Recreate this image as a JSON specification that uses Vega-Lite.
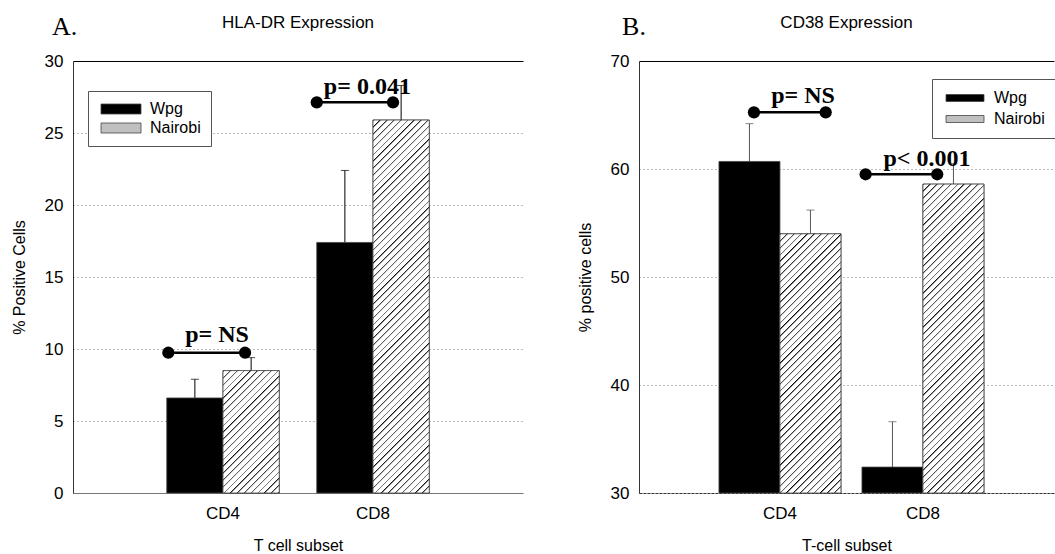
{
  "$schema": "https://vega.github.io/schema/vega-lite/v6.json",
  "background": "white",
  "padding": {"left": 11, "top": 14, "right": 0, "bottom": 0},
  "config": {
    "font": "Liberation Sans",
    "view": {"stroke": "transparent", "strokeWidth": 0},
    "style": {"cell": {"stroke": "transparent", "strokeWidth": 0}},
    "axis": {"labelFont": "Liberation Sans", "titleFont": "Liberation Sans", "labelFontSize": 17, "titleFontSize": 16, "titleFontWeight": "normal", "labelColor": "black", "titleColor": "black", "ticks": false, "tickSize": 0},
    "title": {"font": "Liberation Sans", "fontSize": 17, "fontWeight": "normal", "color": "black"},
    "legend": {"labelFont": "Liberation Sans", "labelFontSize": 16, "labelColor": "black"}
  },
  "datasets": {
    "bars": [
      {"panel": "A", "cat": "CD4", "group": "Wpg", "value": 6.6, "upper": 7.9},
      {"panel": "A", "cat": "CD4", "group": "Nairobi", "value": 8.5, "upper": 9.4},
      {"panel": "A", "cat": "CD8", "group": "Wpg", "value": 17.4, "upper": 22.4},
      {"panel": "A", "cat": "CD8", "group": "Nairobi", "value": 25.9, "upper": 28.3},
      {"panel": "B", "cat": "CD4", "group": "Wpg", "value": 60.7, "upper": 64.2},
      {"panel": "B", "cat": "CD4", "group": "Nairobi", "value": 54.0, "upper": 56.2},
      {"panel": "B", "cat": "CD8", "group": "Wpg", "value": 32.4, "upper": 36.6},
      {"panel": "B", "cat": "CD8", "group": "Nairobi", "value": 58.6, "upper": 60.5}
    ],
    "notes": [
      {"panel": "A", "cat": "CD4", "label": "p= NS", "value": 9.74, "left": 0.014, "right": 0.696, "tx": 0.447, "ty": 10.5},
      {"panel": "A", "cat": "CD8", "label": "p= 0.041", "value": 27.13, "left": 0.0, "right": 0.678, "tx": 0.45, "ty": 27.69},
      {"panel": "B", "cat": "CD4", "label": "p= NS", "value": 65.25, "left": 0.287, "right": 0.875, "tx": 0.689, "ty": 66.08},
      {"panel": "B", "cat": "CD8", "label": "p< 0.001", "value": 59.51, "left": 0.03, "right": 0.617, "tx": 0.533, "ty": 60.28}
    ]
  },
  "hconcat": [
    {
      "title": {"text": "A.", "font": "Liberation Serif", "fontSize": 26, "fontWeight": "normal", "anchor": "start", "dx": 41, "offset": -26},
      "resolve": {"scale": {"fill": "independent"}, "legend": {"fill": "independent"}},
      "vconcat": [
        {
          "width": 450,
          "height": 432,
          "view": {"stroke": "transparent", "strokeWidth": 0},
          "title": {"text": "HLA-DR Expression", "offset": 20},
          "resolve": {"scale": {"xOffset": "independent"}},
          "encoding": {
            "x": {"field": "cat", "type": "nominal", "title": "T cell subset", "scale": {"paddingInner": 0.25, "paddingOuter": 0.625}, "axis": {"labelAngle": 0, "labelPadding": 12, "titlePadding": 16, "domainColor": "#777777", "grid": false}}
          },
          "layer": [
            {
              "data": {"name": "bars"},
              "transform": [{"filter": "datum.panel === 'A'"}],
              "mark": {"type": "rule", "color": "black", "strokeWidth": 1},
              "encoding": {
                "xOffset": {"field": "group", "type": "nominal", "scale": {"domain": ["Wpg", "Nairobi"], "paddingInner": 0, "paddingOuter": 0}},
                "y": {"field": "value", "type": "quantitative", "title": "% Positive Cells", "scale": {"domain": [0, 30], "nice": false}},
                "y2": {"field": "upper"}
              }
            },
            {
              "data": {"name": "bars"},
              "transform": [{"filter": "datum.panel === 'A'"}],
              "mark": {"type": "tick", "color": "black", "thickness": 1, "size": 8, "orient": "horizontal"},
              "encoding": {
                "xOffset": {"field": "group", "type": "nominal", "scale": {"domain": ["Wpg", "Nairobi"], "paddingInner": 0, "paddingOuter": 0}},
                "y": {"field": "upper", "type": "quantitative", "title": "% Positive Cells"}
              }
            },
            {
              "data": {"name": "bars"},
              "transform": [{"filter": "datum.panel === 'A'"}],
              "mark": {"type": "bar", "stroke": "#444444", "strokeWidth": 0.8},
              "encoding": {
                "xOffset": {"field": "group", "type": "nominal", "scale": {"domain": ["Wpg", "Nairobi"], "paddingInner": 0, "paddingOuter": 0}},
                "y": {"field": "value", "type": "quantitative", "title": "% Positive Cells", "scale": {"domain": [0, 30], "nice": false},
                  "axis": {"values": [0, 5, 10, 15, 20, 25, 30], "grid": true,
                    "gridDash": {"condition": {"test": "datum.value === 30", "value": []}, "value": [1, 3]},
                    "gridColor": {"condition": {"test": "datum.value === 30", "value": "#000000"}, "value": "#777777"},
                    "domainColor": "#333333", "labelPadding": 10, "titlePadding": 17}},
                "fill": {"field": "group", "type": "nominal", "scale": {"domain": ["Wpg", "Nairobi"], "range": ["#000000", "#c0c0c0"]},
                  "legend": {"title": null, "orient": "none", "legendX": 15, "legendY": 30, "padding": 10, "rowPadding": 3, "strokeColor": "#555555", "fillColor": "white", "symbolType": "M-1,-1L7,-1L7,1L-1,1Z", "symbolSize": 100, "labelOffset": 36, "symbolStrokeWidth": 0.8}}
              }
            },
            {
              "data": {"name": "bars"},
              "transform": [{"filter": "datum.panel === 'A' && datum.cat === 'CD4' && datum.group === 'Nairobi'"}],
              "mark": {"type": "bar", "stroke": "#444444", "strokeWidth": 0.8, "fill": {"gradient": "linear", "x1": 0, "y1": 0, "x2": 2.108, "y2": 4.587, "stops": [{"offset":0,"color":"#000"},{"offset":0.003,"color":"#fff"},{"offset":0.01,"color":"#fff"},{"offset":0.01,"color":"#000"},{"offset":0.013,"color":"#fff"},{"offset":0.02,"color":"#fff"},{"offset":0.02,"color":"#000"},{"offset":0.023,"color":"#fff"},{"offset":0.03,"color":"#fff"},{"offset":0.03,"color":"#000"},{"offset":0.033,"color":"#fff"},{"offset":0.04,"color":"#fff"},{"offset":0.04,"color":"#000"},{"offset":0.043,"color":"#fff"},{"offset":0.05,"color":"#fff"},{"offset":0.05,"color":"#000"},{"offset":0.053,"color":"#fff"},{"offset":0.06,"color":"#fff"},{"offset":0.06,"color":"#000"},{"offset":0.063,"color":"#fff"},{"offset":0.07,"color":"#fff"},{"offset":0.07,"color":"#000"},{"offset":0.073,"color":"#fff"},{"offset":0.08,"color":"#fff"},{"offset":0.08,"color":"#000"},{"offset":0.083,"color":"#fff"},{"offset":0.09,"color":"#fff"},{"offset":0.09,"color":"#000"},{"offset":0.093,"color":"#fff"},{"offset":0.1,"color":"#fff"},{"offset":0.1,"color":"#000"},{"offset":0.103,"color":"#fff"},{"offset":0.11,"color":"#fff"},{"offset":0.11,"color":"#000"},{"offset":0.113,"color":"#fff"},{"offset":0.12,"color":"#fff"},{"offset":0.12,"color":"#000"},{"offset":0.123,"color":"#fff"},{"offset":0.13,"color":"#fff"},{"offset":0.13,"color":"#000"},{"offset":0.133,"color":"#fff"},{"offset":0.14,"color":"#fff"},{"offset":0.14,"color":"#000"},{"offset":0.143,"color":"#fff"},{"offset":0.15,"color":"#fff"},{"offset":0.15,"color":"#000"},{"offset":0.153,"color":"#fff"},{"offset":0.16,"color":"#fff"},{"offset":0.16,"color":"#000"},{"offset":0.163,"color":"#fff"},{"offset":0.17,"color":"#fff"},{"offset":0.17,"color":"#000"},{"offset":0.173,"color":"#fff"},{"offset":0.18,"color":"#fff"},{"offset":0.18,"color":"#000"},{"offset":0.183,"color":"#fff"},{"offset":0.19,"color":"#fff"},{"offset":0.19,"color":"#000"},{"offset":0.193,"color":"#fff"},{"offset":0.2,"color":"#fff"},{"offset":0.2,"color":"#000"},{"offset":0.203,"color":"#fff"},{"offset":0.21,"color":"#fff"},{"offset":0.21,"color":"#000"},{"offset":0.213,"color":"#fff"},{"offset":0.22,"color":"#fff"},{"offset":0.22,"color":"#000"},{"offset":0.223,"color":"#fff"},{"offset":0.23,"color":"#fff"},{"offset":0.23,"color":"#000"},{"offset":0.233,"color":"#fff"},{"offset":0.24,"color":"#fff"},{"offset":0.24,"color":"#000"},{"offset":0.243,"color":"#fff"},{"offset":0.25,"color":"#fff"},{"offset":0.25,"color":"#000"},{"offset":0.253,"color":"#fff"},{"offset":0.26,"color":"#fff"},{"offset":0.26,"color":"#000"},{"offset":0.263,"color":"#fff"},{"offset":0.27,"color":"#fff"}]}},
              "encoding": {
                "xOffset": {"field": "group", "type": "nominal", "scale": {"domain": ["Wpg", "Nairobi"], "paddingInner": 0, "paddingOuter": 0}},
                "y": {"field": "value", "type": "quantitative", "title": "% Positive Cells"}
              }
            },
            {
              "data": {"name": "bars"},
              "transform": [{"filter": "datum.panel === 'A' && datum.cat === 'CD8' && datum.group === 'Nairobi'"}],
              "mark": {"type": "bar", "stroke": "#444444", "strokeWidth": 0.8, "fill": {"gradient": "linear", "x1": 0, "y1": 0, "x2": 0.26887, "y2": 1.7827, "stops": [{"offset":0,"color":"#000"},{"offset":0.003,"color":"#fff"},{"offset":0.01,"color":"#fff"},{"offset":0.01,"color":"#000"},{"offset":0.013,"color":"#fff"},{"offset":0.02,"color":"#fff"},{"offset":0.02,"color":"#000"},{"offset":0.023,"color":"#fff"},{"offset":0.03,"color":"#fff"},{"offset":0.03,"color":"#000"},{"offset":0.033,"color":"#fff"},{"offset":0.04,"color":"#fff"},{"offset":0.04,"color":"#000"},{"offset":0.043,"color":"#fff"},{"offset":0.05,"color":"#fff"},{"offset":0.05,"color":"#000"},{"offset":0.053,"color":"#fff"},{"offset":0.06,"color":"#fff"},{"offset":0.06,"color":"#000"},{"offset":0.063,"color":"#fff"},{"offset":0.07,"color":"#fff"},{"offset":0.07,"color":"#000"},{"offset":0.073,"color":"#fff"},{"offset":0.08,"color":"#fff"},{"offset":0.08,"color":"#000"},{"offset":0.083,"color":"#fff"},{"offset":0.09,"color":"#fff"},{"offset":0.09,"color":"#000"},{"offset":0.093,"color":"#fff"},{"offset":0.1,"color":"#fff"},{"offset":0.1,"color":"#000"},{"offset":0.103,"color":"#fff"},{"offset":0.11,"color":"#fff"},{"offset":0.11,"color":"#000"},{"offset":0.113,"color":"#fff"},{"offset":0.12,"color":"#fff"},{"offset":0.12,"color":"#000"},{"offset":0.123,"color":"#fff"},{"offset":0.13,"color":"#fff"},{"offset":0.13,"color":"#000"},{"offset":0.133,"color":"#fff"},{"offset":0.14,"color":"#fff"},{"offset":0.14,"color":"#000"},{"offset":0.143,"color":"#fff"},{"offset":0.15,"color":"#fff"},{"offset":0.15,"color":"#000"},{"offset":0.153,"color":"#fff"},{"offset":0.16,"color":"#fff"},{"offset":0.16,"color":"#000"},{"offset":0.163,"color":"#fff"},{"offset":0.17,"color":"#fff"},{"offset":0.17,"color":"#000"},{"offset":0.173,"color":"#fff"},{"offset":0.18,"color":"#fff"},{"offset":0.18,"color":"#000"},{"offset":0.183,"color":"#fff"},{"offset":0.19,"color":"#fff"},{"offset":0.19,"color":"#000"},{"offset":0.193,"color":"#fff"},{"offset":0.2,"color":"#fff"},{"offset":0.2,"color":"#000"},{"offset":0.203,"color":"#fff"},{"offset":0.21,"color":"#fff"},{"offset":0.21,"color":"#000"},{"offset":0.213,"color":"#fff"},{"offset":0.22,"color":"#fff"},{"offset":0.22,"color":"#000"},{"offset":0.223,"color":"#fff"},{"offset":0.23,"color":"#fff"},{"offset":0.23,"color":"#000"},{"offset":0.233,"color":"#fff"},{"offset":0.24,"color":"#fff"},{"offset":0.24,"color":"#000"},{"offset":0.243,"color":"#fff"},{"offset":0.25,"color":"#fff"},{"offset":0.25,"color":"#000"},{"offset":0.253,"color":"#fff"},{"offset":0.26,"color":"#fff"},{"offset":0.26,"color":"#000"},{"offset":0.263,"color":"#fff"},{"offset":0.27,"color":"#fff"},{"offset":0.27,"color":"#000"},{"offset":0.273,"color":"#fff"},{"offset":0.28,"color":"#fff"},{"offset":0.28,"color":"#000"},{"offset":0.283,"color":"#fff"},{"offset":0.29,"color":"#fff"},{"offset":0.29,"color":"#000"},{"offset":0.293,"color":"#fff"},{"offset":0.3,"color":"#fff"},{"offset":0.3,"color":"#000"},{"offset":0.303,"color":"#fff"},{"offset":0.31,"color":"#fff"},{"offset":0.31,"color":"#000"},{"offset":0.313,"color":"#fff"},{"offset":0.32,"color":"#fff"},{"offset":0.32,"color":"#000"},{"offset":0.323,"color":"#fff"},{"offset":0.33,"color":"#fff"},{"offset":0.33,"color":"#000"},{"offset":0.333,"color":"#fff"},{"offset":0.34,"color":"#fff"},{"offset":0.34,"color":"#000"},{"offset":0.343,"color":"#fff"},{"offset":0.35,"color":"#fff"},{"offset":0.35,"color":"#000"},{"offset":0.353,"color":"#fff"},{"offset":0.36,"color":"#fff"},{"offset":0.36,"color":"#000"},{"offset":0.363,"color":"#fff"},{"offset":0.37,"color":"#fff"},{"offset":0.37,"color":"#000"},{"offset":0.373,"color":"#fff"},{"offset":0.38,"color":"#fff"},{"offset":0.38,"color":"#000"},{"offset":0.383,"color":"#fff"},{"offset":0.39,"color":"#fff"},{"offset":0.39,"color":"#000"},{"offset":0.393,"color":"#fff"},{"offset":0.4,"color":"#fff"},{"offset":0.4,"color":"#000"},{"offset":0.403,"color":"#fff"},{"offset":0.41,"color":"#fff"},{"offset":0.41,"color":"#000"},{"offset":0.413,"color":"#fff"},{"offset":0.42,"color":"#fff"},{"offset":0.42,"color":"#000"},{"offset":0.423,"color":"#fff"},{"offset":0.43,"color":"#fff"},{"offset":0.43,"color":"#000"},{"offset":0.433,"color":"#fff"},{"offset":0.44,"color":"#fff"},{"offset":0.44,"color":"#000"},{"offset":0.443,"color":"#fff"},{"offset":0.45,"color":"#fff"},{"offset":0.45,"color":"#000"},{"offset":0.453,"color":"#fff"},{"offset":0.46,"color":"#fff"},{"offset":0.46,"color":"#000"},{"offset":0.463,"color":"#fff"},{"offset":0.47,"color":"#fff"},{"offset":0.47,"color":"#000"},{"offset":0.473,"color":"#fff"},{"offset":0.48,"color":"#fff"},{"offset":0.48,"color":"#000"},{"offset":0.483,"color":"#fff"},{"offset":0.49,"color":"#fff"},{"offset":0.49,"color":"#000"},{"offset":0.493,"color":"#fff"},{"offset":0.5,"color":"#fff"},{"offset":0.5,"color":"#000"},{"offset":0.503,"color":"#fff"},{"offset":0.51,"color":"#fff"},{"offset":0.51,"color":"#000"},{"offset":0.513,"color":"#fff"},{"offset":0.52,"color":"#fff"},{"offset":0.52,"color":"#000"},{"offset":0.523,"color":"#fff"},{"offset":0.53,"color":"#fff"},{"offset":0.53,"color":"#000"},{"offset":0.533,"color":"#fff"},{"offset":0.54,"color":"#fff"},{"offset":0.54,"color":"#000"},{"offset":0.543,"color":"#fff"},{"offset":0.55,"color":"#fff"},{"offset":0.55,"color":"#000"},{"offset":0.553,"color":"#fff"},{"offset":0.56,"color":"#fff"},{"offset":0.56,"color":"#000"},{"offset":0.563,"color":"#fff"},{"offset":0.57,"color":"#fff"},{"offset":0.57,"color":"#000"},{"offset":0.573,"color":"#fff"},{"offset":0.58,"color":"#fff"},{"offset":0.58,"color":"#000"},{"offset":0.583,"color":"#fff"},{"offset":0.59,"color":"#fff"},{"offset":0.59,"color":"#000"},{"offset":0.593,"color":"#fff"},{"offset":0.6,"color":"#fff"},{"offset":0.6,"color":"#000"},{"offset":0.603,"color":"#fff"},{"offset":0.61,"color":"#fff"},{"offset":0.61,"color":"#000"},{"offset":0.613,"color":"#fff"},{"offset":0.62,"color":"#fff"},{"offset":0.62,"color":"#000"},{"offset":0.623,"color":"#fff"},{"offset":0.63,"color":"#fff"},{"offset":0.63,"color":"#000"},{"offset":0.633,"color":"#fff"},{"offset":0.64,"color":"#fff"}]}},
              "encoding": {
                "xOffset": {"field": "group", "type": "nominal", "scale": {"domain": ["Wpg", "Nairobi"], "paddingInner": 0, "paddingOuter": 0}},
                "y": {"field": "value", "type": "quantitative", "title": "% Positive Cells"}
              }
            },
            {
              "data": {"name": "notes"},
              "transform": [{"filter": "datum.panel === 'A'"}, {"fold": ["left", "right"], "as": ["end", "pos"]}],
              "mark": {"type": "line", "color": "black", "strokeWidth": 2.5},
              "encoding": {
                "xOffset": {"field": "pos", "type": "quantitative", "scale": {"domain": [0, 1], "nice": false, "zero": false}},
                "y": {"field": "value", "type": "quantitative", "title": "% Positive Cells"},
                "detail": {"field": "label"}
              }
            },
            {
              "data": {"name": "notes"},
              "transform": [{"filter": "datum.panel === 'A'"}, {"fold": ["left", "right"], "as": ["end", "pos"]}],
              "mark": {"type": "point", "filled": true, "color": "black", "opacity": 1, "size": 150},
              "encoding": {
                "xOffset": {"field": "pos", "type": "quantitative", "scale": {"domain": [0, 1], "nice": false, "zero": false}},
                "y": {"field": "value", "type": "quantitative", "title": "% Positive Cells"}
              }
            },
            {
              "data": {"name": "notes"},
              "transform": [{"filter": "datum.panel === 'A'"}],
              "mark": {"type": "text", "font": "Liberation Serif", "fontWeight": "bold", "fontSize": 24, "baseline": "alphabetic", "align": "center", "color": "black"},
              "encoding": {
                "xOffset": {"field": "tx", "type": "quantitative", "scale": {"domain": [0, 1], "nice": false, "zero": false}},
                "y": {"field": "ty", "type": "quantitative", "title": "% Positive Cells"},
                "text": {"field": "label"}
              }
            }
          ]
        }
      ]
    },
    {
      "title": {"text": "B.", "font": "Liberation Serif", "fontSize": 26, "fontWeight": "normal", "anchor": "start", "dx": 45, "offset": -26},
      "resolve": {"scale": {"fill": "independent"}, "legend": {"fill": "independent"}},
      "vconcat": [
        {
          "width": 415,
          "height": 432,
          "view": {"stroke": "transparent", "strokeWidth": 0},
          "title": {"text": "CD38 Expression", "offset": 20},
          "resolve": {"scale": {"xOffset": "independent"}},
          "encoding": {
            "x": {"field": "cat", "type": "nominal", "title": "T-cell subset", "scale": {"paddingInner": 0.147, "paddingOuter": 0.5245, "align": 0.533}, "axis": {"labelAngle": 0, "labelPadding": 12, "titlePadding": 16, "domainColor": "#333333", "domainDash": [3, 1], "grid": false}}
          },
          "layer": [
            {
              "data": {"name": "bars"},
              "transform": [{"filter": "datum.panel === 'B'"}],
              "mark": {"type": "rule", "color": "#555555", "strokeWidth": 1},
              "encoding": {
                "xOffset": {"field": "group", "type": "nominal", "scale": {"domain": ["Wpg", "Nairobi"], "paddingInner": 0, "paddingOuter": 0}},
                "y": {"field": "value", "type": "quantitative", "title": "% positive cells", "scale": {"domain": [30, 70], "nice": false, "zero": false}},
                "y2": {"field": "upper"}
              }
            },
            {
              "data": {"name": "bars"},
              "transform": [{"filter": "datum.panel === 'B'"}],
              "mark": {"type": "tick", "color": "#555555", "thickness": 1, "size": 8, "orient": "horizontal"},
              "encoding": {
                "xOffset": {"field": "group", "type": "nominal", "scale": {"domain": ["Wpg", "Nairobi"], "paddingInner": 0, "paddingOuter": 0}},
                "y": {"field": "upper", "type": "quantitative", "title": "% positive cells"}
              }
            },
            {
              "data": {"name": "bars"},
              "transform": [{"filter": "datum.panel === 'B'"}],
              "mark": {"type": "bar", "stroke": "#444444", "strokeWidth": 0.8},
              "encoding": {
                "xOffset": {"field": "group", "type": "nominal", "scale": {"domain": ["Wpg", "Nairobi"], "paddingInner": 0, "paddingOuter": 0}},
                "y": {"field": "value", "type": "quantitative", "title": "% positive cells", "scale": {"domain": [30, 70], "nice": false, "zero": false},
                  "axis": {"values": [30, 40, 50, 60, 70], "grid": true,
                    "gridDash": {"condition": {"test": "datum.value === 70", "value": []}, "value": [1, 3]},
                    "gridColor": {"condition": {"test": "datum.value === 70", "value": "#000000"}, "value": "#777777"},
                    "domainColor": "#333333", "labelPadding": 10, "titlePadding": 17}},
                "y2": {"datum": 30},
                "fill": {"field": "group", "type": "nominal", "scale": {"domain": ["Wpg", "Nairobi"], "range": ["#000000", "#c0c0c0"]},
                  "legend": {"title": null, "orient": "none", "legendX": 293, "legendY": 18, "padding": 11, "rowPadding": 5, "strokeColor": "#555555", "fillColor": "white", "symbolType": "M-1,-0.7L6.6,-0.7L6.6,0.7L-1,0.7Z", "symbolSize": 100, "labelOffset": 35, "symbolStrokeWidth": 0.8}}
              }
            },
            {
              "data": {"name": "bars"},
              "transform": [{"filter": "datum.panel === 'B' && datum.cat === 'CD4' && datum.group === 'Nairobi'"}],
              "mark": {"type": "bar", "stroke": "#444444", "strokeWidth": 0.8, "fill": {"gradient": "linear", "x1": 0, "y1": 0, "x2": 0.585, "y2": 2.4858, "stops": [{"offset":0,"color":"#000"},{"offset":0.003,"color":"#fff"},{"offset":0.01,"color":"#fff"},{"offset":0.01,"color":"#000"},{"offset":0.013,"color":"#fff"},{"offset":0.02,"color":"#fff"},{"offset":0.02,"color":"#000"},{"offset":0.023,"color":"#fff"},{"offset":0.03,"color":"#fff"},{"offset":0.03,"color":"#000"},{"offset":0.033,"color":"#fff"},{"offset":0.04,"color":"#fff"},{"offset":0.04,"color":"#000"},{"offset":0.043,"color":"#fff"},{"offset":0.05,"color":"#fff"},{"offset":0.05,"color":"#000"},{"offset":0.053,"color":"#fff"},{"offset":0.06,"color":"#fff"},{"offset":0.06,"color":"#000"},{"offset":0.063,"color":"#fff"},{"offset":0.07,"color":"#fff"},{"offset":0.07,"color":"#000"},{"offset":0.073,"color":"#fff"},{"offset":0.08,"color":"#fff"},{"offset":0.08,"color":"#000"},{"offset":0.083,"color":"#fff"},{"offset":0.09,"color":"#fff"},{"offset":0.09,"color":"#000"},{"offset":0.093,"color":"#fff"},{"offset":0.1,"color":"#fff"},{"offset":0.1,"color":"#000"},{"offset":0.103,"color":"#fff"},{"offset":0.11,"color":"#fff"},{"offset":0.11,"color":"#000"},{"offset":0.113,"color":"#fff"},{"offset":0.12,"color":"#fff"},{"offset":0.12,"color":"#000"},{"offset":0.123,"color":"#fff"},{"offset":0.13,"color":"#fff"},{"offset":0.13,"color":"#000"},{"offset":0.133,"color":"#fff"},{"offset":0.14,"color":"#fff"},{"offset":0.14,"color":"#000"},{"offset":0.143,"color":"#fff"},{"offset":0.15,"color":"#fff"},{"offset":0.15,"color":"#000"},{"offset":0.153,"color":"#fff"},{"offset":0.16,"color":"#fff"},{"offset":0.16,"color":"#000"},{"offset":0.163,"color":"#fff"},{"offset":0.17,"color":"#fff"},{"offset":0.17,"color":"#000"},{"offset":0.173,"color":"#fff"},{"offset":0.18,"color":"#fff"},{"offset":0.18,"color":"#000"},{"offset":0.183,"color":"#fff"},{"offset":0.19,"color":"#fff"},{"offset":0.19,"color":"#000"},{"offset":0.193,"color":"#fff"},{"offset":0.2,"color":"#fff"},{"offset":0.2,"color":"#000"},{"offset":0.203,"color":"#fff"},{"offset":0.21,"color":"#fff"},{"offset":0.21,"color":"#000"},{"offset":0.213,"color":"#fff"},{"offset":0.22,"color":"#fff"},{"offset":0.22,"color":"#000"},{"offset":0.223,"color":"#fff"},{"offset":0.23,"color":"#fff"},{"offset":0.23,"color":"#000"},{"offset":0.233,"color":"#fff"},{"offset":0.24,"color":"#fff"},{"offset":0.24,"color":"#000"},{"offset":0.243,"color":"#fff"},{"offset":0.25,"color":"#fff"},{"offset":0.25,"color":"#000"},{"offset":0.253,"color":"#fff"},{"offset":0.26,"color":"#fff"},{"offset":0.26,"color":"#000"},{"offset":0.263,"color":"#fff"},{"offset":0.27,"color":"#fff"},{"offset":0.27,"color":"#000"},{"offset":0.273,"color":"#fff"},{"offset":0.28,"color":"#fff"},{"offset":0.28,"color":"#000"},{"offset":0.283,"color":"#fff"},{"offset":0.29,"color":"#fff"},{"offset":0.29,"color":"#000"},{"offset":0.293,"color":"#fff"},{"offset":0.3,"color":"#fff"},{"offset":0.3,"color":"#000"},{"offset":0.303,"color":"#fff"},{"offset":0.31,"color":"#fff"},{"offset":0.31,"color":"#000"},{"offset":0.313,"color":"#fff"},{"offset":0.32,"color":"#fff"},{"offset":0.32,"color":"#000"},{"offset":0.323,"color":"#fff"},{"offset":0.33,"color":"#fff"},{"offset":0.33,"color":"#000"},{"offset":0.333,"color":"#fff"},{"offset":0.34,"color":"#fff"},{"offset":0.34,"color":"#000"},{"offset":0.343,"color":"#fff"},{"offset":0.35,"color":"#fff"},{"offset":0.35,"color":"#000"},{"offset":0.353,"color":"#fff"},{"offset":0.36,"color":"#fff"},{"offset":0.36,"color":"#000"},{"offset":0.363,"color":"#fff"},{"offset":0.37,"color":"#fff"},{"offset":0.37,"color":"#000"},{"offset":0.373,"color":"#fff"},{"offset":0.38,"color":"#fff"},{"offset":0.38,"color":"#000"},{"offset":0.383,"color":"#fff"},{"offset":0.39,"color":"#fff"},{"offset":0.39,"color":"#000"},{"offset":0.393,"color":"#fff"},{"offset":0.4,"color":"#fff"},{"offset":0.4,"color":"#000"},{"offset":0.403,"color":"#fff"},{"offset":0.41,"color":"#fff"},{"offset":0.41,"color":"#000"},{"offset":0.413,"color":"#fff"},{"offset":0.42,"color":"#fff"},{"offset":0.42,"color":"#000"},{"offset":0.423,"color":"#fff"},{"offset":0.43,"color":"#fff"},{"offset":0.43,"color":"#000"},{"offset":0.433,"color":"#fff"},{"offset":0.44,"color":"#fff"},{"offset":0.44,"color":"#000"},{"offset":0.443,"color":"#fff"},{"offset":0.45,"color":"#fff"},{"offset":0.45,"color":"#000"},{"offset":0.453,"color":"#fff"},{"offset":0.46,"color":"#fff"},{"offset":0.46,"color":"#000"},{"offset":0.463,"color":"#fff"},{"offset":0.47,"color":"#fff"},{"offset":0.47,"color":"#000"},{"offset":0.473,"color":"#fff"},{"offset":0.48,"color":"#fff"}]}},
              "encoding": {
                "xOffset": {"field": "group", "type": "nominal", "scale": {"domain": ["Wpg", "Nairobi"], "paddingInner": 0, "paddingOuter": 0}},
                "y": {"field": "value", "type": "quantitative", "title": "% positive cells"},
                "y2": {"datum": 30}
              }
            },
            {
              "data": {"name": "bars"},
              "transform": [{"filter": "datum.panel === 'B' && datum.cat === 'CD8' && datum.group === 'Nairobi'"}],
              "mark": {"type": "bar", "stroke": "#444444", "strokeWidth": 0.8, "fill": {"gradient": "linear", "x1": 0, "y1": 0, "x2": 0.41845, "y2": 2.1189, "stops": [{"offset":0,"color":"#000"},{"offset":0.003,"color":"#fff"},{"offset":0.01,"color":"#fff"},{"offset":0.01,"color":"#000"},{"offset":0.013,"color":"#fff"},{"offset":0.02,"color":"#fff"},{"offset":0.02,"color":"#000"},{"offset":0.023,"color":"#fff"},{"offset":0.03,"color":"#fff"},{"offset":0.03,"color":"#000"},{"offset":0.033,"color":"#fff"},{"offset":0.04,"color":"#fff"},{"offset":0.04,"color":"#000"},{"offset":0.043,"color":"#fff"},{"offset":0.05,"color":"#fff"},{"offset":0.05,"color":"#000"},{"offset":0.053,"color":"#fff"},{"offset":0.06,"color":"#fff"},{"offset":0.06,"color":"#000"},{"offset":0.063,"color":"#fff"},{"offset":0.07,"color":"#fff"},{"offset":0.07,"color":"#000"},{"offset":0.073,"color":"#fff"},{"offset":0.08,"color":"#fff"},{"offset":0.08,"color":"#000"},{"offset":0.083,"color":"#fff"},{"offset":0.09,"color":"#fff"},{"offset":0.09,"color":"#000"},{"offset":0.093,"color":"#fff"},{"offset":0.1,"color":"#fff"},{"offset":0.1,"color":"#000"},{"offset":0.103,"color":"#fff"},{"offset":0.11,"color":"#fff"},{"offset":0.11,"color":"#000"},{"offset":0.113,"color":"#fff"},{"offset":0.12,"color":"#fff"},{"offset":0.12,"color":"#000"},{"offset":0.123,"color":"#fff"},{"offset":0.13,"color":"#fff"},{"offset":0.13,"color":"#000"},{"offset":0.133,"color":"#fff"},{"offset":0.14,"color":"#fff"},{"offset":0.14,"color":"#000"},{"offset":0.143,"color":"#fff"},{"offset":0.15,"color":"#fff"},{"offset":0.15,"color":"#000"},{"offset":0.153,"color":"#fff"},{"offset":0.16,"color":"#fff"},{"offset":0.16,"color":"#000"},{"offset":0.163,"color":"#fff"},{"offset":0.17,"color":"#fff"},{"offset":0.17,"color":"#000"},{"offset":0.173,"color":"#fff"},{"offset":0.18,"color":"#fff"},{"offset":0.18,"color":"#000"},{"offset":0.183,"color":"#fff"},{"offset":0.19,"color":"#fff"},{"offset":0.19,"color":"#000"},{"offset":0.193,"color":"#fff"},{"offset":0.2,"color":"#fff"},{"offset":0.2,"color":"#000"},{"offset":0.203,"color":"#fff"},{"offset":0.21,"color":"#fff"},{"offset":0.21,"color":"#000"},{"offset":0.213,"color":"#fff"},{"offset":0.22,"color":"#fff"},{"offset":0.22,"color":"#000"},{"offset":0.223,"color":"#fff"},{"offset":0.23,"color":"#fff"},{"offset":0.23,"color":"#000"},{"offset":0.233,"color":"#fff"},{"offset":0.24,"color":"#fff"},{"offset":0.24,"color":"#000"},{"offset":0.243,"color":"#fff"},{"offset":0.25,"color":"#fff"},{"offset":0.25,"color":"#000"},{"offset":0.253,"color":"#fff"},{"offset":0.26,"color":"#fff"},{"offset":0.26,"color":"#000"},{"offset":0.263,"color":"#fff"},{"offset":0.27,"color":"#fff"},{"offset":0.27,"color":"#000"},{"offset":0.273,"color":"#fff"},{"offset":0.28,"color":"#fff"},{"offset":0.28,"color":"#000"},{"offset":0.283,"color":"#fff"},{"offset":0.29,"color":"#fff"},{"offset":0.29,"color":"#000"},{"offset":0.293,"color":"#fff"},{"offset":0.3,"color":"#fff"},{"offset":0.3,"color":"#000"},{"offset":0.303,"color":"#fff"},{"offset":0.31,"color":"#fff"},{"offset":0.31,"color":"#000"},{"offset":0.313,"color":"#fff"},{"offset":0.32,"color":"#fff"},{"offset":0.32,"color":"#000"},{"offset":0.323,"color":"#fff"},{"offset":0.33,"color":"#fff"},{"offset":0.33,"color":"#000"},{"offset":0.333,"color":"#fff"},{"offset":0.34,"color":"#fff"},{"offset":0.34,"color":"#000"},{"offset":0.343,"color":"#fff"},{"offset":0.35,"color":"#fff"},{"offset":0.35,"color":"#000"},{"offset":0.353,"color":"#fff"},{"offset":0.36,"color":"#fff"},{"offset":0.36,"color":"#000"},{"offset":0.363,"color":"#fff"},{"offset":0.37,"color":"#fff"},{"offset":0.37,"color":"#000"},{"offset":0.373,"color":"#fff"},{"offset":0.38,"color":"#fff"},{"offset":0.38,"color":"#000"},{"offset":0.383,"color":"#fff"},{"offset":0.39,"color":"#fff"},{"offset":0.39,"color":"#000"},{"offset":0.393,"color":"#fff"},{"offset":0.4,"color":"#fff"},{"offset":0.4,"color":"#000"},{"offset":0.403,"color":"#fff"},{"offset":0.41,"color":"#fff"},{"offset":0.41,"color":"#000"},{"offset":0.413,"color":"#fff"},{"offset":0.42,"color":"#fff"},{"offset":0.42,"color":"#000"},{"offset":0.423,"color":"#fff"},{"offset":0.43,"color":"#fff"},{"offset":0.43,"color":"#000"},{"offset":0.433,"color":"#fff"},{"offset":0.44,"color":"#fff"},{"offset":0.44,"color":"#000"},{"offset":0.443,"color":"#fff"},{"offset":0.45,"color":"#fff"},{"offset":0.45,"color":"#000"},{"offset":0.453,"color":"#fff"},{"offset":0.46,"color":"#fff"},{"offset":0.46,"color":"#000"},{"offset":0.463,"color":"#fff"},{"offset":0.47,"color":"#fff"},{"offset":0.47,"color":"#000"},{"offset":0.473,"color":"#fff"},{"offset":0.48,"color":"#fff"},{"offset":0.48,"color":"#000"},{"offset":0.483,"color":"#fff"},{"offset":0.49,"color":"#fff"},{"offset":0.49,"color":"#000"},{"offset":0.493,"color":"#fff"},{"offset":0.5,"color":"#fff"},{"offset":0.5,"color":"#000"},{"offset":0.503,"color":"#fff"},{"offset":0.51,"color":"#fff"},{"offset":0.51,"color":"#000"},{"offset":0.513,"color":"#fff"},{"offset":0.52,"color":"#fff"},{"offset":0.52,"color":"#000"},{"offset":0.523,"color":"#fff"},{"offset":0.53,"color":"#fff"},{"offset":0.53,"color":"#000"},{"offset":0.533,"color":"#fff"},{"offset":0.54,"color":"#fff"},{"offset":0.54,"color":"#000"},{"offset":0.543,"color":"#fff"},{"offset":0.55,"color":"#fff"}]}},
              "encoding": {
                "xOffset": {"field": "group", "type": "nominal", "scale": {"domain": ["Wpg", "Nairobi"], "paddingInner": 0, "paddingOuter": 0}},
                "y": {"field": "value", "type": "quantitative", "title": "% positive cells"},
                "y2": {"datum": 30}
              }
            },
            {
              "data": {"name": "notes"},
              "transform": [{"filter": "datum.panel === 'B'"}, {"fold": ["left", "right"], "as": ["end", "pos"]}],
              "mark": {"type": "line", "color": "black", "strokeWidth": 2.5},
              "encoding": {
                "xOffset": {"field": "pos", "type": "quantitative", "scale": {"domain": [0, 1], "nice": false, "zero": false}},
                "y": {"field": "value", "type": "quantitative", "title": "% positive cells"},
                "detail": {"field": "label"}
              }
            },
            {
              "data": {"name": "notes"},
              "transform": [{"filter": "datum.panel === 'B'"}, {"fold": ["left", "right"], "as": ["end", "pos"]}],
              "mark": {"type": "point", "filled": true, "color": "black", "opacity": 1, "size": 150},
              "encoding": {
                "xOffset": {"field": "pos", "type": "quantitative", "scale": {"domain": [0, 1], "nice": false, "zero": false}},
                "y": {"field": "value", "type": "quantitative", "title": "% positive cells"}
              }
            },
            {
              "data": {"name": "notes"},
              "transform": [{"filter": "datum.panel === 'B'"}],
              "mark": {"type": "text", "font": "Liberation Serif", "fontWeight": "bold", "fontSize": 24, "baseline": "alphabetic", "align": "center", "color": "black"},
              "encoding": {
                "xOffset": {"field": "tx", "type": "quantitative", "scale": {"domain": [0, 1], "nice": false, "zero": false}},
                "y": {"field": "ty", "type": "quantitative", "title": "% positive cells"},
                "text": {"field": "label"}
              }
            }
          ]
        }
      ]
    }
  ],
  "spacing": 54,
  "resolve": {"scale": {"fill": "independent"}, "legend": {"fill": "independent"}}
}
